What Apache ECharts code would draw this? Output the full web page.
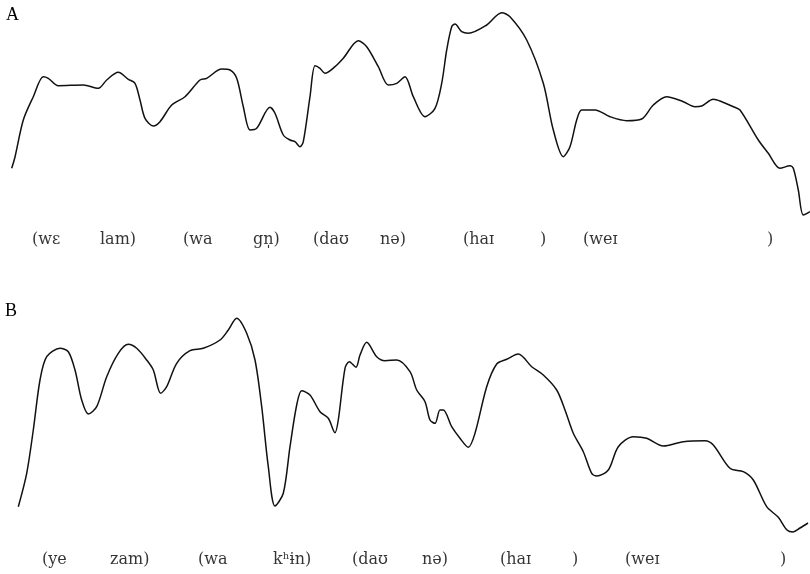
<!DOCTYPE html>
<html>
<head>
<meta charset="utf-8">
<script src="https://cdn.jsdelivr.net/npm/echarts@6/dist/echarts.min.js"></script>
<style>
  html, body { margin: 0; padding: 0; background: #fff; }
  #chart { width: 810px; height: 574px; }
</style>
</head>
<body>
<div id="chart"></div>
<script>
// pitch contour A: [time, pitch height]
const contourA = [
  [11.7, 91.7], [15, 103], [23.3, 140], [33.3, 163.3], [43.3, 183.3], [48.3, 181.7],
  [58.3, 174.3], [83.3, 175], [98.3, 171.7], [106.7, 180], [118.3, 187.7], [128.3, 180.7],
  [135, 176.7], [140, 160], [145, 141.7], [153.3, 134], [160, 138.3], [171.7, 155],
  [185, 163.3], [200, 180], [206.7, 181.7], [221.7, 191], [230, 190], [236.7, 181.7],
  [243.3, 153.3], [250, 130], [256.7, 131.7], [270, 152.7], [275, 146.7], [283.3, 125],
  [290, 120], [295, 118.3], [300, 113.3], [303.3, 118.3], [310, 163.3], [315, 194.3],
  [320, 191.7], [325, 186.7], [335, 193.3], [343.3, 201.7], [358.3, 219.3], [366.7, 213.3],
  [378.3, 193.3], [388.3, 175], [396.7, 176.7], [405, 183.3], [413.3, 163.3], [425, 143.3],
  [435, 151.7], [441.7, 176.7], [446.7, 210], [451.7, 233.3], [455, 236], [461.7, 228.3],
  [468.3, 226.7], [486.7, 235], [501.7, 247.3], [510, 243.3], [526.7, 220], [543.3, 176.7],
  [553.3, 130], [563.3, 103.3], [570, 113.3], [576.7, 140], [581.7, 150], [595, 150],
  [610, 143.3], [626.7, 139.3], [641.7, 141], [653.3, 155], [666.7, 163.3], [683.3, 158.3],
  [695, 153.3], [701.7, 154], [713.3, 160.7], [721.7, 158.3], [733.3, 153.3], [740, 150],
  [758.3, 120], [768.3, 106.7], [780, 91.7], [790, 94.3], [793.3, 91.7], [798.3, 70],
  [803.3, 45], [810, 48.3]
];

// pitch contour B
const contourB = [
  [18.3, 63.3], [26.7, 96.7], [33.3, 140], [40, 190], [46.7, 213.3], [60, 221.7],
  [68.3, 218.3], [75, 200], [81.7, 170], [88.3, 156], [96.7, 163.3], [106.7, 193.3],
  [118.3, 216.7], [128.3, 225.7], [136.7, 221.7], [146.7, 210], [153.3, 200], [160.7, 176.7],
  [166.7, 183.3], [176.7, 206.7], [190, 219.3], [203.3, 221.7], [220, 230], [228.3, 240],
  [236.7, 251.7], [246.7, 236.7], [255, 210], [261.7, 163.3], [268.3, 103.3], [275, 64],
  [283.3, 76.7], [290, 123.3], [296.7, 165], [301.7, 179.3], [310, 175], [320, 158.3],
  [328.3, 151.7], [335, 137.3], [338.3, 150], [345, 201.7], [349.3, 208.3], [356, 202.7],
  [360, 215], [366.7, 227.7], [376.7, 213.3], [385, 209.3], [396.7, 210], [410, 198.3],
  [416.7, 180], [425, 168.3], [430, 150], [435, 146.7], [440, 160], [443.3, 160],
  [451.7, 143.3], [460, 131.7], [468.3, 122.7], [475, 136.7], [486.7, 183.3], [496.7, 206],
  [506.7, 210.7], [518.3, 216], [531.7, 203.3], [543.3, 195], [556.7, 180], [565, 160],
  [573.3, 136.7], [583.3, 118.3], [591.7, 96.7], [596.7, 94], [608.3, 100], [618.3, 123.3],
  [633.3, 133.3], [646.7, 131.7], [663.3, 124], [683.3, 128.3], [705, 129.3], [713.3, 125],
  [730, 101.7], [743.3, 98.3], [753.3, 90], [766.7, 63.3], [778.3, 52.7], [787, 40],
  [793, 38], [800, 42], [808, 47]
];

// syllable labels and where they start on the time axis
const sylA = ['(wɛ', 'lam)', '(wa', 'gn̩)', '(daʊ', 'nə)', '(haɪ', ')', '(weɪ', ')'];
const sylAx = [32, 100, 183, 253, 313, 380, 463, 540, 583, 767];
const sylB = ['(ye', 'zam)', '(wa', 'kʰɨn)', '(daʊ', 'nə)', '(haɪ', ')', '(weɪ', ')'];
const sylBx = [42, 110, 198, 273, 352, 422, 500, 572, 625, 780];
const labelRowA = 20;
const labelRowB = 10;

const chart = echarts.init(document.getElementById('chart'));

const lineStyle = { color: '#111', width: 1.5 };
const textStyle = { fontFamily: 'DejaVu Serif', fontSize: 16, color: '#000' };

function labelSeries(idx, names, xs, row) {
  return {
    type: 'scatter',
    xAxisIndex: idx,
    yAxisIndex: idx,
    symbolSize: 0,
    silent: true,
    data: names.map((n, i) => [xs[i], row, n]),
    label: {
      show: true,
      position: 'right',
      distance: 0,
      formatter: p => p.data[2],
      ...textStyle
    }
  };
}

chart.setOption({
  animation: false,
  backgroundColor: '#fff',
  graphic: [
    { type: 'text', left: 6, top: 6, style: { text: 'A', font: '18px "Liberation Serif"', fill: '#000' } },
    { type: 'text', left: 5, top: 302, style: { text: 'B', font: '18px "Liberation Serif"', fill: '#000' } }
  ],
  grid: [
    { left: 0, right: 0, top: 0, height: 260 },
    { left: 0, right: 0, top: 290, height: 280 }
  ],
  xAxis: [
    { type: 'value', gridIndex: 0, min: 0, max: 810, show: false },
    { type: 'value', gridIndex: 1, min: 0, max: 810, show: false }
  ],
  yAxis: [
    { type: 'value', gridIndex: 0, min: 0, max: 260, show: false },
    { type: 'value', gridIndex: 1, min: 0, max: 280, show: false }
  ],
  series: [
    {
      type: 'line', xAxisIndex: 0, yAxisIndex: 0, data: contourA,
      showSymbol: false, smooth: 0.3, lineStyle: lineStyle
    },
    {
      type: 'line', xAxisIndex: 1, yAxisIndex: 1, data: contourB,
      showSymbol: false, smooth: 0.3, lineStyle: lineStyle
    },
    labelSeries(0, sylA, sylAx, labelRowA),
    labelSeries(1, sylB, sylBx, labelRowB)
  ]
});
</script>
</body>
</html>
